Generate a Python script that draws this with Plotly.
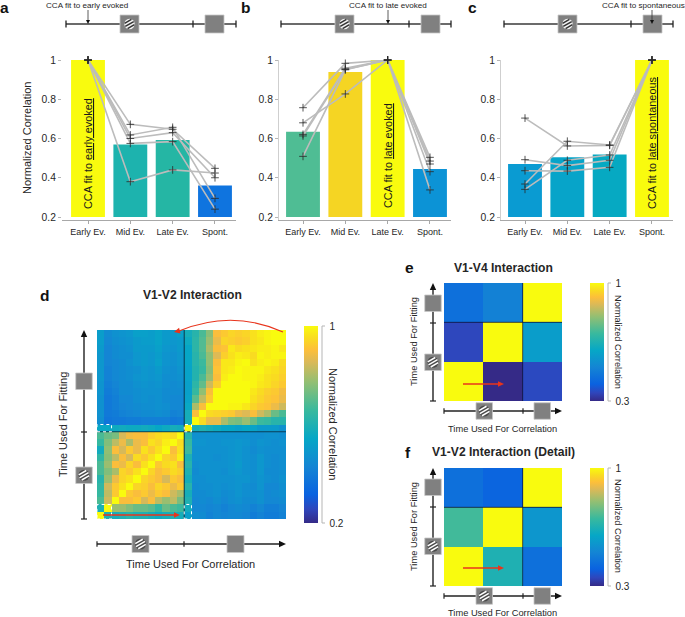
import math
import numpy as np
import plotly.graph_objects as go

W, H = 685, 617
ML, MR, MT, MB = 10, 10, 20, 20
FONT = "Liberation Sans"
INK = "#262626"
RED = "#e8341c"
GREY = "#808080"

categories = ["Early Ev.", "Mid Ev.", "Late Ev.", "Spont."]
y_ticks = [0.2, 0.4, 0.6, 0.8, 1]

bars_a = [1.0, 0.57, 0.592, 0.361]
bars_b = [0.635, 0.939, 1.0, 0.445]
bars_c = [0.47, 0.504, 0.519, 1.0]
colors_a = ["#f9fb0e", "#1db3ae", "#25b6a4", "#0f74df"]
colors_b = ["#4fbd94", "#f5d523", "#f9fb0e", "#0c93d6"]
colors_c = ["#0a9bd2", "#07a4c9", "#06a9c2", "#f9fb0e"]

lines_a = [
    [1, 0.672, 0.647, 0.448],
    [1, 0.618, 0.657, 0.295],
    [1, 0.60, 0.63, 0.40],
    [1, 0.575, 0.584, 0.24],
    [1, 0.38, 0.44, 0.424],
]
lines_b = [
    [0.757, 0.983, 1, 0.504],
    [0.68, 0.827, 1, 0.485],
    [0.621, 0.958, 1, 0.47],
    [0.613, 0.952, 1, 0.431],
    [0.509, 0.95, 1, 0.338],
]
lines_c = [
    [0.704, 0.562, 0.565, 1],
    [0.492, 0.462, 0.489, 1],
    [0.436, 0.434, 0.453, 1],
    [0.368, 0.586, 0.567, 1],
    [0.341, 0.489, 0.516, 1],
]

# V1-V2 matrix, hundredths of normalized correlation, top row first
matrix_d = [
    [51,45,47,48,49,52,52,51,53,50,50,52, 58,62,68,76,90,92,94,93,94,96,98,99,100,100],
    [51,44,46,47,48,50,51,51,53,50,49,50, 56,63,69,78,88,94,93,92,93,96,97,99,100,100],
    [50,43,45,46,47,50,50,50,52,49,48,50, 54,63,69,80,90,91,97,95,96,97,98,98,99,97],
    [49,43,45,46,46,49,50,49,51,48,47,49, 54,62,68,77,86,93,96,98,97,95,99,98,99,99],
    [49,43,44,45,47,49,50,49,52,48,47,49, 54,62,66,77,90,97,97,99,100,96,98,99,98,95],
    [49,42,44,45,46,47,49,48,50,47,46,48, 53,61,65,76,91,97,98,100,99,99,99,97,96,94],
    [49,42,44,45,46,48,49,48,49,46,46,47, 53,61,68,78,90,98,100,100,99,99,98,96,95,93],
    [48,41,43,45,45,47,48,47,48,46,45,46, 52,63,71,84,93,100,100,100,100,99,97,96,94,92],
    [48,40,42,45,45,46,47,47,47,45,45,45, 52,65,77,90,100,100,100,100,100,97,95,93,92,89],
    [47,39,41,44,44,46,47,46,47,45,44,44, 53,70,82,92,100,100,100,100,100,96,94,92,91,88],
    [47,39,41,43,44,45,46,46,47,46,44,44, 55,80,90,100,100,100,99,99,97,94,92,91,88,84],
    [47,39,40,42,43,44,45,45,46,45,42,43, 58,90,100,95,94,93,92,88,86,90,84,80,72,68],
    [46,38,39,39,40,40,41,41,41,41,39,40, 58,100,95,88,88,80,75,74,78,72,66,65,62,62],
    [55,55,56,57,56,56,57,56,54,56,58,57, 100,58,60,58,56,54,54,52,54,53,50,50,50,47],
    [68,72,74,85,89,90,90,93,95,96,95,100, 62,47,47,47,47,47,47,47,47,46,46,47,47,46],
    [65,75,82,88,80,88,90,96,94,98,100,95, 65,48,48,47,47,48,48,49,48,46,48,47,46,47],
    [57,77,90,85,92,88,96,92,96,100,90,96, 66,47,47,47,47,47,48,49,47,45,47,46,46,46],
    [64,76,82,90,85,95,92,96,100,94,92,98, 60,47,47,47,46,47,48,49,47,46,49,46,45,46],
    [68,78,90,88,94,90,96,100,92,95,96,90, 62,46,47,47,47,47,48,50,47,46,49,46,45,46],
    [68,75,80,94,92,96,100,94,90,92,95,93, 60,45,47,47,47,46,48,49,47,46,49,45,45,46],
    [62,78,88,94,96,100,94,92,90,85,92,90, 58,46,46,47,47,47,47,48,48,46,48,46,45,47],
    [64,84,92,96,100,94,93,90,94,92,88,92, 62,45,46,46,47,46,47,48,46,45,48,44,44,46],
    [65,82,92,100,92,90,92,88,92,90,84,80, 58,45,45,46,47,45,46,48,46,46,47,44,45,46],
    [68,84,100,90,90,92,85,90,82,78,82,74, 60,44,45,44,46,44,46,47,45,45,47,44,44,45],
    [60,100,78,78,75,72,72,70,65,72,68,66, 57,44,44,43,44,42,44,45,44,42,44,41,41,43],
    [100,60,58,60,62,60,60,58,56,58,60,58, 52,46,45,42,44,43,44,44,43,40,42,40,40,42],
]

# 3x3 matrices, top row first
matrix_e = [[0.44, 0.49, 1.0], [0.35, 1.0, 0.57], [1.0, 0.30, 0.355]]
matrix_f = [[0.44, 0.41, 1.0], [0.71, 1.0, 0.55], [1.0, 0.65, 0.44]]

parula = [
    [0.0, "#352a87"], [0.07, "#2f46bc"], [0.143, "#0a62e0"], [0.286, "#1485d4"],
    [0.429, "#06a7c6"], [0.571, "#38b99e"], [0.714, "#92bf73"], [0.82, "#dcb957"],
    [0.88, "#fdbf3a"], [0.94, "#f9dc20"], [1.0, "#f9fb0e"],
]


def fx(px):
    return (px - ML) / (W - ML - MR)


def fy(py):
    return 1 - (py - MT) / (H - MT - MB)


shapes = []
annotations = []


def line(x0, y0, x1, y1, color=INK, width=1.0, dash=None):
    d = dict(color=color, width=width)
    if dash:
        d["dash"] = dash
    shapes.append(dict(type="line", xref="paper", yref="paper", x0=fx(x0), y0=fy(y0),
                       x1=fx(x1), y1=fy(y1), line=d))


def tri(xtip, ytip, dx, dy, length, half, color):
    n = math.hypot(dx, dy)
    ux, uy = dx / n, dy / n
    bx, by = xtip - ux * length, ytip - uy * length
    pts = [(xtip, ytip), (bx - uy * half, by + ux * half), (bx + uy * half, by - ux * half)]
    path = "M " + " L ".join(f"{fx(a):.5f},{fy(b):.5f}" for a, b in pts) + " Z"
    shapes.append(dict(type="path", xref="paper", yref="paper", path=path,
                       fillcolor=color, line=dict(color=color, width=0)))


def text(px, py, s, size, angle=0, bold=False, color=INK, xanchor="center"):
    annotations.append(dict(
        x=fx(px), y=fy(py), xref="paper", yref="paper", text=f"<b>{s}</b>" if bold else s,
        showarrow=False, textangle=angle, xanchor=xanchor, yanchor="middle",
        font=dict(family=FONT, size=size, color=color),
    ))


def square(x0, y0, x1, y1):
    shapes.append(dict(type="rect", xref="paper", yref="paper", x0=fx(x0), y0=fy(y0),
                       x1=fx(x1), y1=fy(y1), fillcolor=GREY, line=dict(color="#c8c8c8", width=0.8)))


def disc(cx, cy, r, color):
    shapes.append(dict(type="circle", xref="paper", yref="paper", x0=fx(cx - r), y0=fy(cy - r),
                       x1=fx(cx + r), y1=fy(cy + r), fillcolor=color, line=dict(width=0)))


def grating_square(x0, y0, x1, y1, r=5.2, white_on_dark=False):
    square(x0, y0, x1, y1)
    cx, cy = (x0 + x1) / 2, (y0 + y1) / 2
    base, stripe = ("#4a4a4a", "#ffffff") if white_on_dark else ("#f2f2f2", "#333333")
    disc(cx, cy, r, base)
    for off in (-3.0, 0.0, 3.0):
        half = math.sqrt(max(r * r - off * off, 0)) - 0.3
        mx, my = cx + off * 0.5, cy + off * 0.866
        ux, uy = 0.866, -0.5
        line(mx - ux * half, my - uy * half, mx + ux * half, my + uy * half, stripe, 1.5)


def top_timeline(x0, x_tick, x1, s1, s2, xa, label, xt):
    y = 24
    line(x0, y, x1, y, "#3a3a3a", 1.6)
    for xx in (x0, x_tick, x1):
        line(xx, y - 3.5, xx, y + 3.5, "#222222", 1.3)
    grating_square(s1, 15, s1 + 19, 33)
    square(s2, 15, s2 + 19, 33)
    line(xa, 10, xa, 21, "#333333", 0.8)
    tri(xa, 24, 0, 1, 4, 2, "#111111")
    text(xt, 5.5, label, 8.1)


def h_time(x0, x_tick, x1, y, s1, s2, size):
    line(x0, y, x1 - 5, y, "#222222", 1.4)
    tri(x1, y, 1, 0, 7, 3.2, "#111111")
    for xx in (x0, x_tick):
        line(xx, y - 2.8, xx, y + 2.8, "#222222", 1.2)
    grating_square(s1, y - size / 2, s1 + size, y + size / 2, 5.5, True)
    square(s2, y - size / 2, s2 + size, y + size / 2)


def v_time(x, y0, y_tick, y1, s1, s2, size):
    line(x, y0, x, y1 + 5, "#222222", 1.4)
    tri(x, y1, 0, -1, 7, 3.2, "#111111")
    for yy in (y0, y_tick):
        line(x - 3, yy, x + 3, yy, "#222222", 1.2)
    grating_square(x - size / 2, s1, x + size / 2, s1 + size, 5.5, True)
    square(x - size / 2, s2, x + size / 2, s2 + size)


def red_arrow(x0, x1, y):
    line(x0, y, x1 - 5, y, RED, 1.3)
    tri(x1, y, 1, 0, 6, 2.8, RED)


def bar_panel(fig, n, bars, colors, rows):
    xn = "x" if n == 1 else f"x{n}"
    yn = "y" if n == 1 else f"y{n}"
    fig.add_trace(go.Bar(x=categories, y=[v - 0.2 for v in bars], base=0.2, width=0.8,
                         marker=dict(color=colors, line=dict(width=0)),
                         xaxis=xn, yaxis=yn, showlegend=False))
    for row in rows:
        fig.add_trace(go.Scatter(x=categories, y=row, mode="lines",
                                 line=dict(color="#bcbcbc", width=1.6), cliponaxis=False,
                                 xaxis=xn, yaxis=yn, showlegend=False))
    for row in rows:
        fig.add_trace(go.Scatter(x=categories, y=row, mode="markers", cliponaxis=False,
                                 marker=dict(symbol="cross-thin", size=5.5,
                                             line=dict(color="#2a2a2a", width=0.8)),
                                 xaxis=xn, yaxis=yn, showlegend=False))


def heat_panel(fig, n, z, zmin, bar_x, bar_top, bar_bot, ticks, ticktext):
    fig.add_trace(go.Heatmap(
        z=z, zmin=zmin, zmax=1, colorscale=parula, xaxis=f"x{n}", yaxis=f"y{n}",
        colorbar=dict(x=fx(bar_x), xanchor="left", xpad=0, ypad=0, thickness=14,
                      y=fy(bar_bot), yanchor="bottom", len=(bar_bot - bar_top) / (H - MT - MB),
                      outlinewidth=0, tickmode="array", tickvals=ticks, ticktext=ticktext,
                      ticks="outside", ticklen=10, tickcolor="rgba(0,0,0,0)",
                      tickfont=dict(family=FONT, size=10, color=INK)),
    ))


fig = go.Figure()
bar_panel(fig, 1, bars_a, colors_a, lines_a)
bar_panel(fig, 2, bars_b, colors_b, lines_b)
bar_panel(fig, 3, bars_c, colors_c, lines_c)

mat_d = (np.array(matrix_d, dtype=float) / 100)[::-1]
heat_panel(fig, 4, mat_d, 0.2, 304, 326, 523, [0.2, 1], ["0.2", "1"])
heat_panel(fig, 5, np.array(matrix_e)[::-1], 0.3, 590, 283, 401, [0.3, 1], ["0.3", "1"])
heat_panel(fig, 6, np.array(matrix_f)[::-1], 0.3, 590, 468, 586, [0.3, 1], ["0.3", "1"])

# timelines a-c
top_timeline(66, 193, 236, 120, 205, 88, "CCA fit to early evoked", 87)
top_timeline(281, 409, 451, 335, 421, 388, "CCA fit to late evoked", 388)
top_timeline(504, 631, 673, 558, 643, 652, "CCA fit to spontaneous", 643)

# rotated in-bar labels
text(88, 154, "CCA fit to <u>early evoked</u>", 10.9, -90, color="#1a1a1a")
text(388, 156, "CCA fit to <u>late evoked</u>", 10.9, -90, color="#1a1a1a")
text(652, 143, "CCA fit to <u>late spontaneous</u>", 10.9, -90, color="#1a1a1a")
text(27, 138, "Normalized Correlation", 11, -90)

# panel letters
for s, x, y in [("a", 4, 8), ("b", 245, 8), ("c", 472, 8), ("d", 44, 295), ("e", 409, 268), ("f", 408, 452)]:
    text(x, y, s, 15.5, bold=True, color="#111111")

# panel d furniture
text(192, 295, "V1-V2 Interaction", 12.1, bold=True)
text(191, 564, "Time Used For Correlation", 11)
text(63, 425, "Time Used For Fitting", 11, -90)
text(333, 424, "Normalized Correlation", 11, 90)
h_time(97, 184, 286, 544, 132, 227, 17)
v_time(84, 519, 432, 330, 467, 373, 16.5)

# panel d boundaries, via the heatmap's own axes
for a in [dict(x0=11.5, x1=11.5, y0=-0.5, y1=25.5), dict(x0=-0.5, x1=25.5, y0=11.5, y1=11.5)]:
    shapes.append(dict(type="line", xref="x4", yref="y4", line=dict(color="rgba(10,40,60,0.8)", width=1.1), **a))
for x0, x1, y0, y1 in [(-0.5, 1.5, 11.5, 12.5), (11.5, 12.5, 11.5, 12.5), (-0.5, 1.5, -0.5, 1.5), (11.5, 12.5, -0.5, 1.5)]:
    shapes.append(dict(type="rect", xref="x4", yref="y4", x0=x0, x1=x1, y0=y0, y1=y1,
                       line=dict(color="white", width=1, dash="dot")))
red_arrow(103, 180, 515)
shapes.append(dict(type="path", xref="paper", yref="paper",
                   path=f"M {fx(283):.5f},{fy(332):.5f} Q {fx(232):.5f},{fy(309):.5f} {fx(179):.5f},{fy(331):.5f}",
                   line=dict(color=RED, width=1.2)))
tri(174, 332, -1, 0.25, 6, 3, RED)

# colour-bar rails
for xr, top, bot in [(322, 326, 523), (608, 283, 401), (608, 468, 586)]:
    line(xr, top, xr, bot, "#b5b5b5", 1)
    line(xr, top, xr + 3, top, "#b5b5b5", 1)
    line(xr, bot, xr + 3, bot, "#b5b5b5", 1)

# panel e furniture
text(503, 268, "V1-V4 Interaction", 12.1, bold=True)
text(502, 429, "Time Used For Correlation", 9.3)
text(414, 342, "Time Used For Fitting", 9.3, -90)
text(618, 342, "Normalized Correlation", 9.2, 90)
h_time(444, 523, 562, 411, 476, 534, 16.5)
v_time(433, 401, 323, 283, 354, 295, 16.5)
red_arrow(463, 504, 384)

# panel f furniture
text(503, 452, "V1-V2 Interaction (Detail)", 12.1, bold=True)
text(502, 613, "Time Used For Correlation", 9.3)
text(414, 527, "Time Used For Fitting", 9.3, -90)
text(618, 526, "Normalized Correlation", 9.2, 90)
h_time(444, 523, 562, 596, 476, 534, 16.5)
v_time(433, 586, 507, 468, 538, 479, 16.5)
red_arrow(463, 504, 568)

for ref in ("x5", "x6"):
    yref = "y" + ref[1:]
    shapes.append(dict(type="line", xref=ref, yref=yref, x0=1.5, x1=1.5, y0=-0.5, y1=2.5,
                       line=dict(color="rgba(10,20,60,0.75)", width=1)))
    shapes.append(dict(type="line", xref=ref, yref=yref, x0=-0.5, x1=2.5, y0=1.5, y1=1.5,
                       line=dict(color="rgba(10,20,60,0.8)", width=1)))


def bar_axes(left, right, first_center, showline):
    step = 42.33
    x = dict(domain=[fx(left), fx(right)], range=[(left - first_center) / step, (right - first_center) / step],
             type="category", categoryorder="array", categoryarray=categories,
             showline=True, linecolor="#a8a8a8", linewidth=1, ticks="outside", ticklen=3,
             tickcolor="#a8a8a8", showgrid=False, zeroline=False,
             tickfont=dict(family=FONT, size=9, color=INK))
    y = dict(domain=[fy(220), fy(60)], range=[0.2 - 3 / 196.25, 1.0], tickmode="array",
             tickvals=y_ticks, ticktext=["0.2", "0.4", "0.6", "0.8", "1"],
             showline=showline, linecolor="#cfcfcf", linewidth=1, ticks="outside", ticklen=3,
             tickcolor="#b5b5b5", showgrid=False, zeroline=False,
             tickfont=dict(family=FONT, size=10.3, color=INK))
    return x, y


def heat_axes(left, right, top, bot, lo, hi):
    common = dict(visible=False, showgrid=False, zeroline=False)
    return dict(domain=[fx(left), fx(right)], range=[lo, hi], **common), \
        dict(domain=[fy(bot), fy(top)], range=[lo, hi], **common)


xa1, ya1 = bar_axes(62, 236, 88, False)
xa2, ya2 = bar_axes(279, 451, 303, True)
xa3, ya3 = bar_axes(501, 673, 525, True)
xa4, ya4 = heat_axes(97, 286, 330, 519, -0.5, 25.5)
xa5, ya5 = heat_axes(444, 562, 283, 401, -0.5, 2.5)
xa6, ya6 = heat_axes(444, 562, 468, 586, -0.5, 2.5)

layout = dict(
    width=W, height=H, autosize=False, margin=dict(l=ML, r=MR, t=MT, b=MB, pad=0),
    paper_bgcolor="white", plot_bgcolor="white", showlegend=False, bargap=0.2,
    font=dict(family=FONT, color=INK), shapes=shapes, annotations=annotations,
    xaxis=xa1, yaxis=ya1, xaxis2=xa2, yaxis2=ya2, xaxis3=xa3, yaxis3=ya3,
    xaxis4=xa4, yaxis4=ya4, xaxis5=xa5, yaxis5=ya5, xaxis6=xa6, yaxis6=ya6,
)
for k in ("x", "x2", "x3", "x4", "x5", "x6"):
    a = "xaxis" if k == "x" else "xaxis" + k[1:]
    b = "y" if k == "x" else "y" + k[1:]
    layout[a]["anchor"] = b
    layout["yaxis" + a[5:]]["anchor"] = k

fig.update_layout(**layout)
fig.write_html("out.html", config={"displayModeBar": False},
               post_script="document.body.style.margin='0';")
